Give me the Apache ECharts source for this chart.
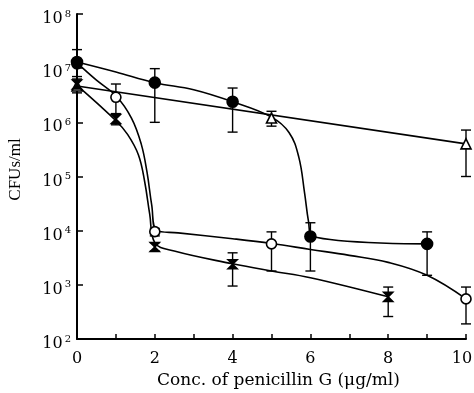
<!DOCTYPE html>
<html>
<head>
<meta charset="utf-8">
<script src="https://cdn.jsdelivr.net/npm/echarts@6/dist/echarts.min.js"></script>
<style>
  html, body { margin: 0; padding: 0; background: #fff; }
  #chart { width: 474px; height: 393px; }
</style>
</head>
<body>
<div id="chart"></div>
<script>
// measured points (conc, CFUs/ml)
const filledCircle = [[0, 1.3e7], [2, 5.4e6], [4, 2.4e6], [6, 7.8e3], [9, 5.7e3]];
const openTriangle = [[0, 4.7e6], [5, 1.2e6], [10, 4e5]];
const openCircle = [[0, 1.2e7], [1, 2.9e6], [2, 9.6e3], [5, 5.7e3], [10, 5.5e2]];
const hourglass = [[0, 5e6], [1, 1.15e6], [2, 5e3], [4, 2.4e3], [8, 6e2]];

// error bars [conc, low, high]
const filledCircleErr = [[0, 7e6, 2.2e7], [2, 1e6, 9.8e6], [4, 6.6e5, 4.3e6], [6, 1.8e3, 1.4e4], [9, 1.5e3, 9.5e3]];
const openTriangleErr = [[0, 3.5e6, 6.3e6], [5, 8.5e5, 1.6e6], [10, 1e5, 7.2e5]];
const openCircleErr = [[1, 1.4e6, 5.1e6], [2, 8e3, 1.1e4], [5, 1.8e3, 9.5e3], [10, 1.9e2, 9.1e2]];
const hourglassErr = [[1, 9e5, 1.45e6], [2, 4.2e3, 6e3], [4, 9.5e2, 3.9e3], [8, 2.6e2, 9.1e2]];

// hand-drawn fit curves
const filledCircleFit = [[0, 1.3e7], [1, 8.5e6], [2, 5.4e6], [3, 4e6], [4, 2.4e6], [5, 1.25e6],
  [5.45, 6.5e5], [5.7, 2.3e5], [5.85, 5e4], [5.95, 1.5e4], [6.05, 7.8e3], [9, 5.7e3]];
const openTriangleFit = [[0, 4.7e6], [10, 4e5]];
const openCircleFit = [[0, 1.25e7], [0.5, 6e6], [1, 3.1e6], [1.4, 1.2e6], [1.65, 4e5], [1.8, 1.2e5], [1.92, 3e4],
  [2.05, 1e4], [2.6, 9.1e3], [4, 7.1e3], [5, 5.8e3], [6, 4.5e3], [7, 3.5e3], [8, 2.6e3],
  [9, 1.5e3], [10, 5.5e2]];
const hourglassFit = [[0, 4.8e6], [1, 1.07e6], [1.3, 6e5], [1.58, 2.5e5], [1.74, 8e4], [1.87, 2e4],
  [2.0, 6e3], [2.5, 4.2e3], [4, 2.45e3], [5, 1.8e3], [6, 1.35e3], [8, 6e2]];

const xTicks = [0, 2, 4, 6, 8, 10];

const serif = '"Liberation Serif", serif';
const wide = '"DejaVu Serif", serif';
const chart = echarts.init(document.getElementById('chart'));

function errBar(params, api) {
  const x = api.value(0);
  const lo = api.coord([x, api.value(1)]);
  const hi = api.coord([x, api.value(2)]);
  const w = 5;
  const st = { stroke: '#000', lineWidth: 1.4 };
  return {
    type: 'group',
    children: [
      { type: 'line', shape: { x1: lo[0], y1: lo[1], x2: hi[0], y2: hi[1] }, style: st },
      { type: 'line', shape: { x1: lo[0] - w, y1: lo[1], x2: lo[0] + w, y2: lo[1] }, style: st },
      { type: 'line', shape: { x1: hi[0] - w, y1: hi[1], x2: hi[0] + w, y2: hi[1] }, style: st }
    ]
  };
}

function fitLine(data) {
  return {
    type: 'line', data: data, smooth: 0.4, symbol: 'none',
    lineStyle: { color: '#000', width: 1.6 }, z: 2, silent: true
  };
}
function errSeries(data) {
  return { type: 'custom', data: data, renderItem: errBar, encode: { x: 0, y: [1, 2] }, z: 3, silent: true };
}
function marks(data, symbol, size, fill) {
  return {
    type: 'scatter', data: data, symbol: symbol, symbolSize: size, z: 4,
    itemStyle: { color: fill, borderColor: '#000', borderWidth: 1.6, opacity: 1 }
  };
}

chart.setOption({
  animation: false,
  backgroundColor: '#fff',
  grid: { left: 77, right: 8, top: 14, bottom: 54, outerBoundsMode: 'none', containLabel: false },
  xAxis: {
    type: 'value', min: 0, max: 10, interval: 1,
    name: 'Conc. of penicillin G (μg/ml)', nameLocation: 'middle', nameGap: 28,
    nameTextStyle: { fontFamily: wide, fontSize: 17, color: '#000', padding: [0, 0, 0, 14] },
    axisLine: { lineStyle: { color: '#000', width: 2 } },
    axisTick: { inside: true, length: 5, lineStyle: { color: '#000', width: 1.5 } },
    axisLabel: {
      fontFamily: wide, fontSize: 16, color: '#000', margin: 12,
      formatter: v => (v === 10 ? '{r|10}' : xTicks.indexOf(v) >= 0 ? String(v) : ''),
      rich: { r: { fontFamily: wide, fontSize: 16, color: '#000', padding: [0, 8, 0, 0] } }
    },
    splitLine: { show: false }
  },
  yAxis: {
    type: 'log', logBase: 10, min: 1e2, max: 1e8,
    name: 'CFUs/ml', nameLocation: 'middle', nameGap: 53, nameRotate: 90,
    nameTextStyle: { fontFamily: serif, fontSize: 17, color: '#000', padding: [0, 0, 0, 14] },
    axisLine: { lineStyle: { color: '#000', width: 2 } },
    axisTick: { inside: true, length: 6, lineStyle: { color: '#000', width: 1.5 } },
    axisLabel: {
      margin: 6,
      padding: [10, 0, 0, 0],
      formatter: v => '{b|10}{s|' + Math.round(Math.log10(v)) + '}',
      rich: {
        b: { fontFamily: wide, fontSize: 16, color: '#000' },
        s: { fontFamily: wide, fontSize: 10, color: '#000', verticalAlign: 'top', padding: [0, 0, 10, 2] }
      }
    },
    splitLine: { show: false }
  },
  series: [
    fitLine(filledCircleFit),
    fitLine(openTriangleFit),
    fitLine(openCircleFit),
    fitLine(hourglassFit),
    errSeries(filledCircleErr),
    errSeries(openTriangleErr),
    errSeries(openCircleErr),
    errSeries(hourglassErr),
    marks(openCircle, 'circle', 10, '#fff'),
    marks(openTriangle, 'triangle', 10, '#fff'),
    marks(hourglass, 'path://M0,0L10,0L0,10L10,10Z', 9, '#000'),
    marks(filledCircle, 'circle', 11, '#000')
  ]
});
</script>
</body>
</html>
